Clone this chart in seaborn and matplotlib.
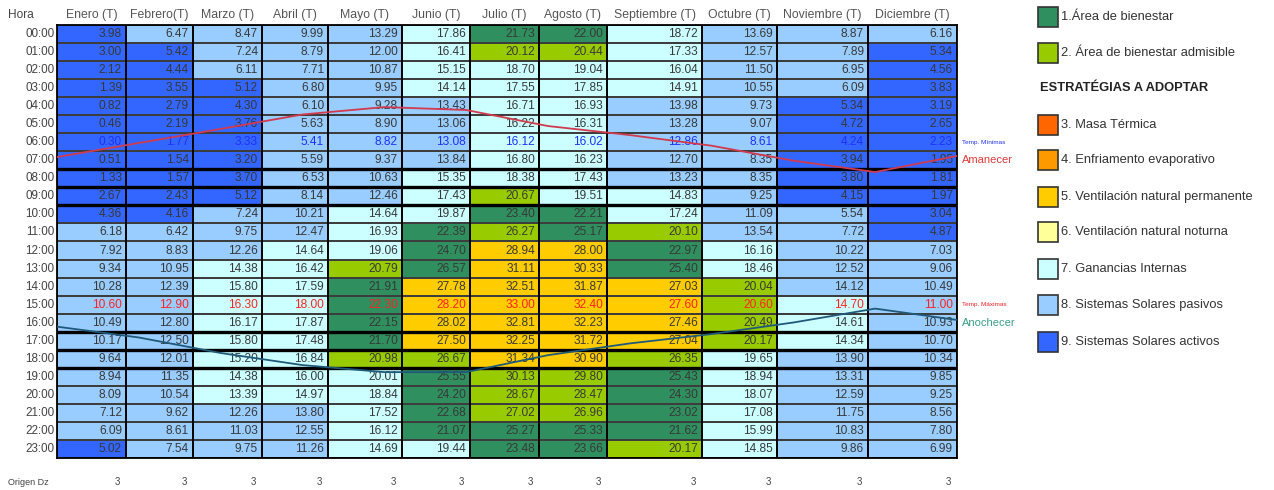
import numpy as np
import pandas as pd
import matplotlib
matplotlib.use("Agg")
import matplotlib.pyplot as plt
import seaborn as sns
from matplotlib.colors import ListedColormap
from matplotlib.patches import Rectangle

# ---------------------------------------------------------------- data
months = ["Enero (T)", "Febrero(T)", "Marzo (T)", "Abril (T)", "Mayo (T)", "Junio (T)",
          "Julio (T)", "Agosto (T)", "Septiembre (T)", "Octubre (T)", "Noviembre (T)",
          "Diciembre (T)"]
hours = [f"{h:02d}:00" for h in range(24)]

# hourly temperatures (°C), one list per month
t_enero = [3.98, 3.00, 2.12, 1.39, 0.82, 0.46, 0.30, 0.51, 1.33, 2.67, 4.36, 6.18,
           7.92, 9.34, 10.28, 10.60, 10.49, 10.17, 9.64, 8.94, 8.09, 7.12, 6.09, 5.02]
t_febrero = [6.47, 5.42, 4.44, 3.55, 2.79, 2.19, 1.77, 1.54, 1.57, 2.43, 4.16, 6.42,
             8.83, 10.95, 12.39, 12.90, 12.80, 12.50, 12.01, 11.35, 10.54, 9.62, 8.61, 7.54]
t_marzo = [8.47, 7.24, 6.11, 5.12, 4.30, 3.76, 3.33, 3.20, 3.70, 5.12, 7.24, 9.75,
           12.26, 14.38, 15.80, 16.30, 16.17, 15.80, 15.20, 14.38, 13.39, 12.26, 11.03, 9.75]
t_abril = [9.99, 8.79, 7.71, 6.80, 6.10, 5.63, 5.41, 5.59, 6.53, 8.14, 10.21, 12.47,
           14.64, 16.42, 17.59, 18.00, 17.87, 17.48, 16.84, 16.00, 14.97, 13.80, 12.55, 11.26]
t_mayo = [13.29, 12.00, 10.87, 9.95, 9.28, 8.90, 8.82, 9.37, 10.63, 12.46, 14.64, 16.93,
          19.06, 20.79, 21.91, 22.30, 22.15, 21.70, 20.98, 20.01, 18.84, 17.52, 16.12, 14.69]
t_junio = [17.86, 16.41, 15.15, 14.14, 13.43, 13.06, 13.08, 13.84, 15.35, 17.43, 19.87, 22.39,
           24.70, 26.57, 27.78, 28.20, 28.02, 27.50, 26.67, 25.55, 24.20, 22.68, 21.07, 19.44]
t_julio = [21.73, 20.12, 18.70, 17.55, 16.71, 16.22, 16.12, 16.80, 18.38, 20.67, 23.40, 26.27,
           28.94, 31.11, 32.51, 33.00, 32.81, 32.25, 31.34, 30.13, 28.67, 27.02, 25.27, 23.48]
t_agosto = [22.00, 20.44, 19.04, 17.85, 16.93, 16.31, 16.02, 16.23, 17.43, 19.51, 22.21, 25.17,
            28.00, 30.33, 31.87, 32.40, 32.23, 31.72, 30.90, 29.80, 28.47, 26.96, 25.33, 23.66]
t_septiembre = [18.72, 17.33, 16.04, 14.91, 13.98, 13.28, 12.86, 12.70, 13.23, 14.83, 17.24, 20.10,
                22.97, 25.40, 27.03, 27.60, 27.46, 27.04, 26.35, 25.43, 24.30, 23.02, 21.62, 20.17]
t_octubre = [13.69, 12.57, 11.50, 10.55, 9.73, 9.07, 8.61, 8.35, 8.35, 9.25, 11.09, 13.54,
             16.16, 18.46, 20.04, 20.60, 20.49, 20.17, 19.65, 18.94, 18.07, 17.08, 15.99, 14.85]
t_noviembre = [8.87, 7.89, 6.95, 6.09, 5.34, 4.72, 4.24, 3.94, 3.80, 4.15, 5.54, 7.72,
               10.22, 12.52, 14.12, 14.70, 14.61, 14.34, 13.90, 13.31, 12.59, 11.75, 10.83, 9.86]
t_diciembre = [6.16, 5.34, 4.56, 3.83, 3.19, 2.65, 2.23, 1.95, 1.81, 1.97, 3.04, 4.87,
               7.03, 9.06, 10.49, 11.00, 10.93, 10.70, 10.34, 9.85, 9.25, 8.56, 7.80, 6.99]

# comfort zone / strategy (1..9) of every hour, one list per month
z_enero = [9, 9, 9, 9, 9, 9, 9, 9, 9, 9, 9, 8, 8, 8, 8, 8, 8, 8, 8, 8, 8, 8, 8, 9]
z_febrero = [8, 9, 9, 9, 9, 9, 9, 9, 9, 9, 9, 8, 8, 8, 8, 8, 8, 8, 8, 8, 8, 8, 8, 8]
z_marzo = [8, 8, 8, 9, 9, 9, 9, 9, 9, 9, 8, 8, 8, 7, 7, 7, 7, 7, 7, 7, 7, 8, 8, 8]
z_abril = [8, 8, 8, 8, 8, 8, 8, 8, 8, 8, 8, 8, 7, 7, 7, 7, 7, 7, 7, 7, 7, 8, 8, 8]
z_mayo = [8, 8, 8, 8, 8, 8, 8, 8, 8, 8, 7, 7, 7, 2, 1, 1, 1, 1, 2, 7, 7, 7, 7, 7]
z_junio = [7, 7, 7, 7, 8, 8, 8, 8, 7, 7, 7, 1, 1, 1, 5, 5, 5, 5, 2, 1, 1, 1, 1, 7]
z_julio = [1, 2, 7, 7, 7, 7, 7, 7, 7, 2, 1, 2, 5, 5, 5, 5, 5, 5, 5, 2, 2, 2, 1, 1]
z_agosto = [1, 2, 7, 7, 7, 7, 7, 7, 7, 7, 1, 1, 5, 5, 5, 5, 5, 5, 5, 2, 2, 2, 1, 1]
z_septiembre = [7, 7, 7, 7, 8, 8, 8, 8, 8, 7, 7, 2, 1, 1, 5, 5, 5, 5, 2, 1, 1, 1, 1, 2]
z_octubre = [8, 8, 8, 8, 8, 8, 8, 8, 8, 8, 8, 8, 7, 7, 2, 2, 2, 2, 7, 7, 7, 7, 7, 7]
z_noviembre = [8, 8, 8, 8, 9, 9, 9, 9, 9, 9, 8, 8, 8, 8, 8, 7, 7, 7, 8, 8, 8, 8, 8, 8]
z_diciembre = [8, 9, 9, 9, 9, 9, 9, 9, 9, 9, 9, 9, 8, 8, 8, 8, 8, 8, 8, 8, 8, 8, 8, 8]

# sunrise / sunset curves, in table-row units (one point per month)
amanecer = [7.32, 6.54, 5.76, 4.96, 4.55, 4.71, 5.60, 6.10, 6.69, 7.52, 8.15, 7.26]
anochecer = [16.72, 17.32, 18.18, 18.85, 19.24, 19.24, 18.30, 17.65, 17.13, 16.49, 15.72, 16.35]

origen_dz = [3, 3, 3, 3, 3, 3, 3, 3, 3, 3, 3, 3]
fila_minimas = "06:00"
fila_maximas = "15:00"

zone_labels = ["1.Área de bienestar", "2. Área de bienestar admisible",
               "3. Masa Térmica", "4. Enfriamento evaporativo",
               "5. Ventilación natural permanente", "6. Ventilación natural noturna",
               "7. Ganancias Internas", "8. Sistemas Solares pasivos",
               "9. Sistemas Solares activos"]

# ---------------------------------------------------------------- style
zone_colors = ["#2f8f5f", "#99cc00", "#ff6600", "#ff9900", "#ffcc00",
               "#ffff99", "#ccffff", "#99ccff", "#3366ff"]
col_widths = [69, 67, 69, 66, 74, 68, 69, 68, 95, 75, 91, 89]

sns.set_theme(style="white")
plt.rcParams["font.family"] = ["Liberation Sans", "DejaVu Sans"]

temps = pd.DataFrame(
    np.column_stack([t_enero, t_febrero, t_marzo, t_abril, t_mayo, t_junio, t_julio,
                     t_agosto, t_septiembre, t_octubre, t_noviembre, t_diciembre]),
    index=hours, columns=months)
zones = pd.DataFrame(
    np.column_stack([z_enero, z_febrero, z_marzo, z_abril, z_mayo, z_junio, z_julio,
                     z_agosto, z_septiembre, z_octubre, z_noviembre, z_diciembre]),
    index=hours, columns=months)

W, H = 1274, 490
fig = plt.figure(figsize=(W / 100, H / 100), dpi=100)
left, top, tw, th = 57, 25, sum(col_widths), 433
pos = [left / W, 1 - (top + th) / H, tw / W, th / H]
ax = fig.add_axes(pos)

cmap = ListedColormap(zone_colors)
sns.heatmap(zones, cmap=cmap, vmin=0.5, vmax=9.5, cbar=False,
            linewidths=1.1, linecolor="#3d3d3d", ax=ax)

# columns of unequal width: map column index -> table width
idx = np.arange(len(col_widths) + 1, dtype=float)
edges = np.concatenate([[0], np.cumsum(col_widths)]).astype(float)
ax.set_xscale("function",
              functions=(lambda x: np.interp(x, idx, edges),
                         lambda p: np.interp(p, edges, idx)))
ax.set_xlim(0, 12)
ax.set_ylim(24, 0)

# grid emphasis
for j in range(1, 12):
    ax.axvline(j, color="black", lw=1.3, zorder=3)
for k in [8, 9, 10, 17, 18, 19]:
    ax.axhline(k, color="black", lw=2.4, zorder=3)
for s in ax.spines.values():
    s.set_visible(True)
    s.set_color("black")
    s.set_linewidth(1.3)

# cell values
n_rows, n_cols = temps.shape
for i, h in enumerate(hours):
    if h == fila_minimas:
        tc = "#1f2fff"
    elif h == fila_maximas:
        tc = "#ff2222"
    else:
        tc = "#383838"
    for j in range(n_cols):
        ax.annotate(f"{temps.iat[i, j]:.2f}", xy=(j + 1, i + 0.5), xytext=(-4, 0),
                    textcoords="offset pixels", ha="right", va="center",
                    fontsize=8.6, color=tc, zorder=4)

# headers and hour labels
ax.xaxis.tick_top()
ax.set_xticks(np.arange(12) + 0.5)
ax.set_xticklabels(months, fontsize=8.8, color="#555555")
ax.set_yticks(np.arange(24) + 0.5)
ax.set_yticklabels(hours, fontsize=8.4, color="#444444", rotation=0)
ax.tick_params(axis="both", length=0)
ax.tick_params(axis="x", pad=3)
ax.tick_params(axis="y", pad=2)
ax.set_xlabel("")
ax.set_ylabel("")
fig.text(8 / W, 1 - 15 / H, "Hora", fontsize=8.6, color="#444444", va="center")

# bottom row
fig.text(8 / W, 1 - 482 / H, "Origen Dz", fontsize=6.5, color="#444444", va="center")
for j, v in enumerate(origen_dz):
    ax.annotate(str(v), xy=(j + 1, 24), xytext=(-6, -24), textcoords="offset pixels",
                ha="right", va="center", fontsize=7, color="#444444",
                annotation_clip=False)

# side labels
row_min = hours.index(fila_minimas)
row_max = hours.index(fila_maximas)
side = [(row_min, "Temp. Mínimas", "#2233ee", 4.6),
        (row_min + 1, "Amanecer", "#e03a3a", 8),
        (row_max, "Temp. Máximas", "#ee2222", 4.6),
        (row_max + 1, "Anochecer", "#3a9f8a", 8)]
for r, txt, c, fs in side:
    ax.annotate(txt, xy=(12, r + 0.5), xytext=(5, 0), textcoords="offset pixels",
                ha="left", va="center", fontsize=fs, color=c, annotation_clip=False)

# sunrise / sunset curves over the table
cax = fig.add_axes(pos)
cax.patch.set_alpha(0)
sns.lineplot(x=np.arange(12), y=amanecer, ax=cax, color="#d23a4e", lw=1.3,
             legend=False)
sns.lineplot(x=np.arange(12), y=anochecer, ax=cax, color="#1f5a7a", lw=1.3,
             legend=False)
cax.set_xlim(0, 11)
cax.set_ylim(24, 0)
cax.axis("off")

# legend
lax = fig.add_axes([0, 0, 1, 1])
lax.set_xlim(0, W)
lax.set_ylim(H, 0)
lax.axis("off")
lax.patch.set_alpha(0)
leg_y = [17, 53, 125, 160, 197, 232, 269, 305, 342]
for y, c, lab in zip(leg_y, zone_colors, zone_labels):
    lax.add_patch(Rectangle((1038, y - 10), 20, 20, facecolor=c,
                            edgecolor="#333333", lw=1.2))
    lax.text(1061, y, lab, fontsize=9.3, color="#333333", va="center", ha="left")
lax.text(1040, 88, "ESTRATÉGIAS A ADOPTAR", fontsize=9.3, fontweight="bold",
         color="#222222", va="center", ha="left")

fig.savefig("out.png", dpi=100)
